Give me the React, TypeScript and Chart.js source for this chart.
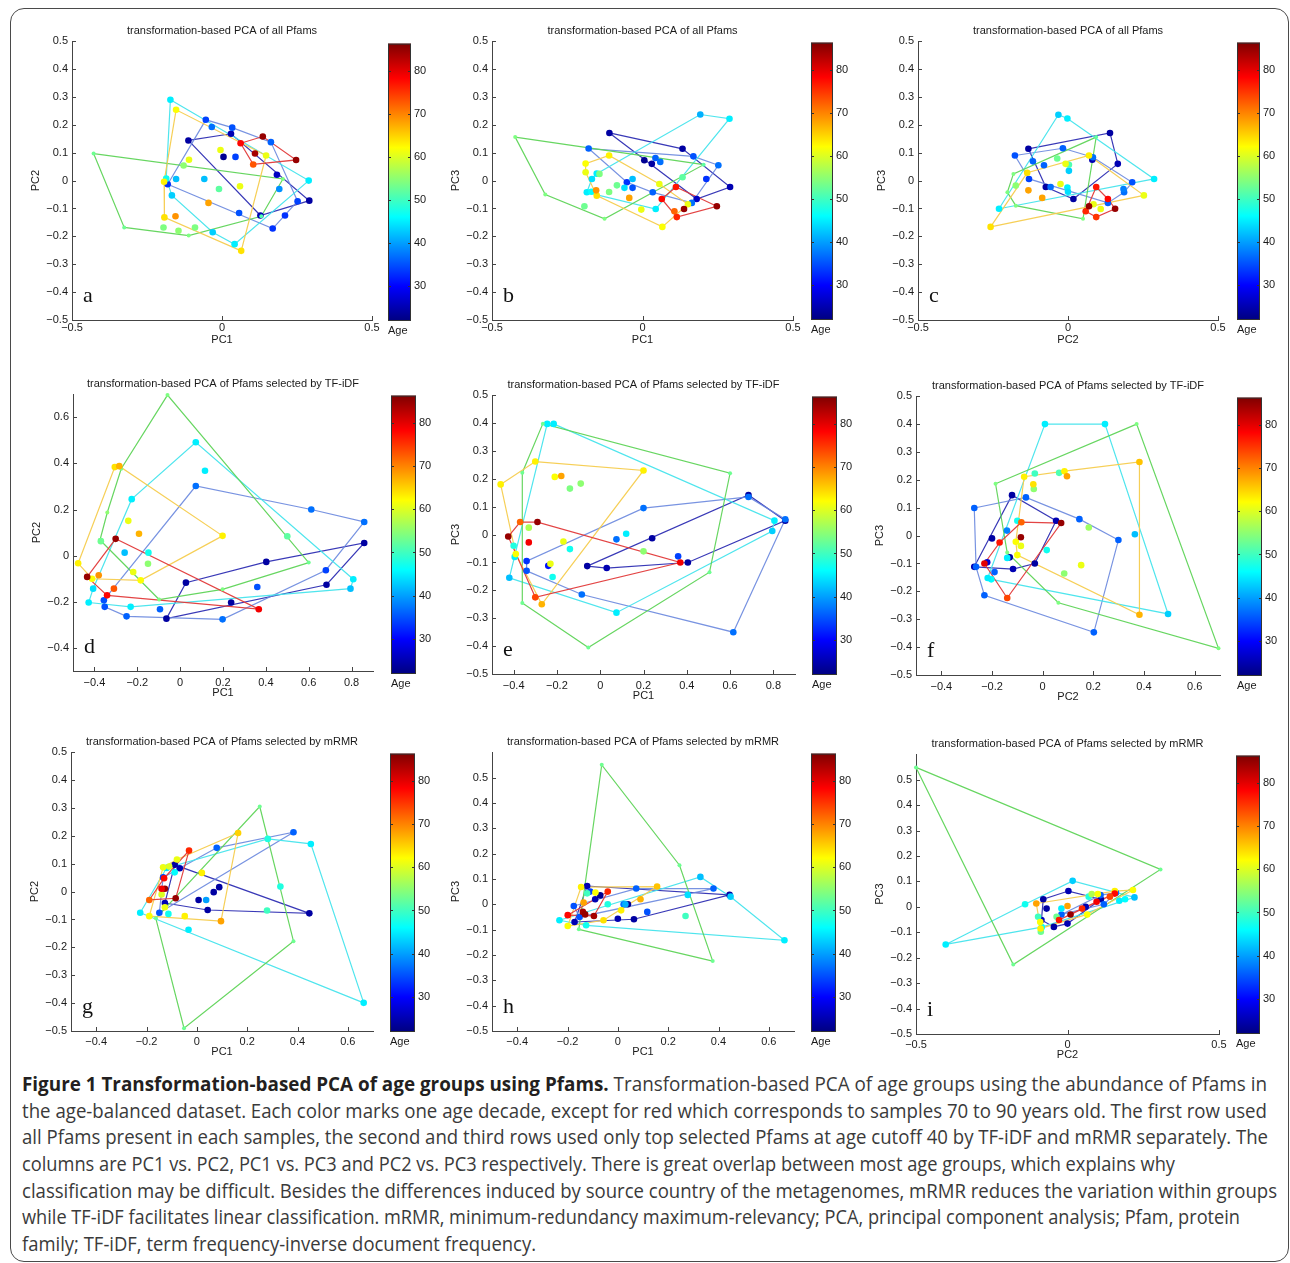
import React, { useEffect, useLayoutEffect, useRef } from "react";
import { Chart, registerables } from "chart.js";
Chart.register(...registerables);

// ---------------- data ----------------
type P = [number, number, number, number]; // x, y, age, hull-vertex flag

const AGE_MIN = 21.8;
const AGE_MAX = 86.4;
const AGE_TICKS = [30, 40, 50, 60, 70, 80];

const TICKS_HALF = [-0.5, 0, 0.5];
const TICKS_TENTHS = [-0.5, -0.4, -0.3, -0.2, -0.1, 0, 0.1, 0.2, 0.3, 0.4, 0.5];
const TICKS_X_WIDE = [-0.4, -0.2, 0, 0.2, 0.4, 0.6, 0.8];
const TICKS_X_MID = [-0.4, -0.2, 0, 0.2, 0.4, 0.6];
const TICKS_Y_D = [-0.4, -0.2, 0, 0.2, 0.4, 0.6];

const TITLE_ALL = "transformation-based PCA of all Pfams";
const TITLE_TF = "transformation-based PCA of Pfams selected by TF-iDF";
const TITLE_MR = "transformation-based PCA of Pfams selected by mRMR";

const ptsA: P[] = [
  [-0.112, 0.144, 24, 1], [0.03, 0.168, 25, 1], [0.183, 0.021, 26, 1], [0.291, -0.072, 24, 1], [0.128, -0.125, 25, 1], [0.005, 0.085, 23, 0],
  [-0.054, 0.218, 34, 1], [0.034, 0.19, 35, 1], [0.163, 0.138, 36, 1], [0.252, -0.074, 34, 1], [0.169, -0.172, 33, 1], [-0.181, -0.013, 33, 1],
  [-0.034, 0.192, 37, 0], [0.057, -0.116, 35, 0], [0.191, -0.03, 39, 0], [0.045, 0.085, 34, 0], [0.21, -0.125, 33, 0],
  [-0.172, 0.29, 45, 1], [0.289, 0.0, 45, 1], [0.042, -0.228, 45, 1], [-0.031, -0.185, 43, 1], [-0.167, -0.053, 43, 1], [-0.186, 0.007, 47, 1],
  [-0.153, 0.006, 42, 0], [-0.059, 0.006, 42, 0],
  [-0.428, 0.097, 53, 1], [-0.326, -0.168, 53, 1], [-0.111, -0.197, 54, 1], [0.131, -0.128, 51, 1], [0.203, 0.006, 54, 1],
  [-0.128, 0.054, 55, 0], [-0.195, -0.168, 54, 0], [-0.145, -0.18, 55, 0], [-0.09, -0.168, 54, 0], [-0.01, -0.03, 52, 0],
  [-0.153, 0.254, 62, 1], [0.147, 0.09, 61, 1], [0.064, -0.252, 64, 1], [-0.192, -0.132, 64, 1], [-0.193, -0.004, 63, 1],
  [-0.11, 0.075, 61, 0], [-0.005, 0.11, 61, 0], [0.06, -0.02, 61, 0], [-0.045, -0.08, 68, 0], [-0.155, -0.128, 69, 0],
  [0.062, 0.134, 78, 1], [0.136, 0.158, 85, 1], [0.247, 0.074, 85, 1], [0.104, 0.058, 73, 1], [0.11, 0.097, 84, 0],
];

const ptsB: P[] = [
  [-0.11, 0.171, 24, 1], [0.133, 0.114, 24, 1], [0.291, -0.023, 25, 1], [0.18, -0.066, 26, 1], [0.006, 0.073, 23, 0], [0.031, 0.06, 24, 0],
  [-0.179, 0.115, 36, 1], [0.169, 0.087, 35, 1], [0.252, 0.055, 37, 1], [0.164, -0.08, 37, 1], [0.034, -0.042, 36, 1], [-0.052, -0.006, 33, 1],
  [0.043, 0.081, 36, 0], [0.059, 0.067, 37, 0], [0.212, 0.006, 33, 0], [-0.033, -0.026, 35, 0],
  [-0.152, 0.025, 45, 1], [0.192, 0.237, 41, 1], [0.289, 0.222, 45, 1], [0.044, -0.102, 45, 1], [-0.185, -0.042, 45, 1], [-0.168, 0.006, 44, 1],
  [-0.033, 0.006, 42, 0], [-0.06, -0.026, 44, 0], [-0.17, -0.04, 46, 0],
  [-0.423, 0.156, 54, 1], [-0.323, -0.05, 54, 1], [-0.126, -0.137, 54, 1], [0.203, 0.057, 52, 1],
  [-0.193, -0.092, 53, 0], [-0.111, -0.041, 54, 0], [-0.085, -0.017, 53, 0], [-0.143, 0.024, 54, 0], [0.133, 0.012, 52, 0],
  [-0.111, 0.09, 63, 1], [-0.189, 0.061, 62, 1], [-0.189, 0.03, 61, 1], [-0.152, -0.054, 64, 1], [0.066, -0.166, 62, 1], [0.151, -0.085, 61, 1],
  [0.056, -0.012, 61, 1], [-0.004, -0.104, 61, 0], [-0.044, -0.062, 68, 0], [-0.154, -0.035, 69, 0],
  [0.111, -0.023, 77, 1], [0.247, -0.092, 85, 1], [0.114, -0.131, 76, 1], [0.064, -0.066, 78, 1], [0.138, -0.102, 85, 0], [0.106, -0.11, 72, 0],
];

const ptsC: P[] = [
  [-0.132, 0.114, 24, 1], [0.14, 0.171, 24, 1], [0.166, 0.06, 25, 1], [0.018, -0.066, 24, 1], [-0.074, -0.023, 24, 1], [0.081, 0.075, 25, 0],
  [-0.177, 0.09, 35, 1], [-0.017, 0.116, 36, 1], [0.083, 0.084, 37, 1], [0.214, -0.006, 35, 1], [0.187, -0.042, 37, 1], [0.133, -0.08, 36, 1],
  [-0.13, 0.006, 34, 1], [-0.08, 0.055, 36, 0], [-0.117, 0.069, 36, 0], [-0.058, -0.023, 37, 0], [0.185, -0.03, 38, 0],
  [-0.032, 0.236, 43, 1], [-0.002, 0.223, 45, 1], [0.287, 0.006, 45, 1], [-0.23, -0.101, 45, 1],
  [0.003, 0.035, 43, 0], [-0.002, -0.025, 45, 0], [0.0, -0.04, 44, 0],
  [-0.182, 0.024, 54, 1], [-0.202, -0.042, 54, 1], [-0.174, -0.09, 54, 1], [0.05, -0.137, 54, 1], [0.094, 0.156, 52, 1],
  [-0.036, 0.079, 53, 0], [-0.174, -0.018, 55, 0], [0.003, 0.057, 51, 0],
  [-0.258, -0.166, 64, 1], [-0.136, 0.028, 64, 1], [0.07, 0.09, 63, 1], [0.253, -0.053, 61, 1],
  [-0.008, 0.06, 61, 0], [-0.025, -0.012, 61, 0], [-0.132, -0.035, 68, 0], [-0.086, -0.062, 68, 0], [0.109, -0.102, 61, 0], [0.085, -0.085, 61, 0],
  [0.094, -0.023, 77, 1], [0.133, -0.066, 78, 1], [0.157, -0.101, 85, 1], [0.094, -0.131, 75, 1], [0.059, -0.11, 76, 1], [0.07, -0.092, 85, 0],
];

const ptsD: P[] = [
  [0.027, -0.117, 24, 1], [0.402, -0.027, 24, 1], [0.859, 0.055, 24, 1], [0.683, -0.126, 24, 1], [-0.064, -0.273, 24, 1], [0.238, -0.203, 24, 0],
  [0.073, 0.302, 37, 1], [0.612, 0.2, 37, 1], [0.859, 0.146, 37, 1], [0.68, -0.063, 34, 1], [0.198, -0.276, 37, 1], [-0.25, -0.263, 36, 1],
  [-0.352, -0.222, 35, 1], [-0.356, -0.193, 35, 1], [-0.094, -0.232, 36, 0], [0.36, -0.136, 35, 0],
  [0.073, 0.492, 45, 1], [0.808, -0.102, 45, 1], [0.795, -0.143, 42, 1], [-0.231, -0.222, 45, 1], [-0.427, -0.203, 45, 1], [-0.406, -0.143, 44, 1],
  [-0.226, 0.245, 45, 1], [0.116, 0.368, 45, 0], [-0.259, 0.013, 42, 0], [-0.148, 0.013, 47, 0],
  [-0.059, 0.696, 54, 1], [0.6, -0.03, 53, 1], [0.198, -0.146, 54, 1], [-0.098, -0.19, 54, 1], [-0.374, 0.068, 54, 1], [-0.275, 0.377, 54, 1],
  [-0.34, 0.187, 55, 1], [0.5, 0.084, 52, 0], [-0.15, -0.035, 55, 0], [-0.37, 0.063, 53, 0],
  [-0.476, -0.033, 63, 1], [-0.305, 0.384, 64, 1], [-0.284, 0.388, 67, 1], [0.198, 0.086, 63, 1], [-0.184, -0.107, 62, 1], [-0.411, -0.1, 62, 1],
  [-0.242, 0.151, 61, 0], [-0.192, 0.095, 67, 0], [-0.219, -0.071, 61, 0], [-0.38, -0.085, 69, 0],
  [-0.301, 0.073, 85, 1], [0.367, -0.232, 79, 1], [-0.341, -0.172, 78, 1], [-0.434, -0.092, 85, 1], [-0.309, -0.143, 73, 0],
];

const ptsE: P[] = [
  [0.685, 0.142, 24, 1], [0.855, 0.05, 24, 1], [0.405, -0.1, 24, 1], [0.03, -0.12, 25, 1], [-0.06, -0.113, 24, 1], [0.24, -0.013, 24, 1],
  [0.2, 0.095, 37, 1], [0.685, 0.135, 37, 1], [0.855, 0.055, 37, 1], [0.615, -0.35, 37, 1], [-0.085, -0.215, 37, 1], [-0.34, -0.13, 35, 1],
  [-0.34, -0.095, 33, 1], [0.075, -0.017, 37, 0], [0.36, -0.078, 34, 0], [-0.24, -0.112, 31, 0],
  [-0.245, 0.397, 45, 1], [-0.215, 0.397, 45, 1], [0.805, 0.05, 45, 1], [0.795, 0.013, 43, 1], [0.075, -0.28, 45, 1], [-0.42, -0.155, 42, 1],
  [-0.395, -0.08, 45, 1], [0.12, 0.003, 45, 0], [-0.14, -0.052, 47, 0], [-0.22, -0.152, 47, 0], [-0.4, -0.04, 48, 0],
  [-0.265, 0.398, 53, 1], [0.6, 0.22, 53, 1], [0.505, -0.135, 53, 1], [-0.055, -0.405, 53, 1], [-0.36, -0.245, 53, 1], [-0.36, 0.222, 53, 1],
  [-0.14, 0.165, 54, 0], [-0.09, 0.183, 55, 0], [-0.33, 0.025, 57, 0], [0.2, -0.06, 55, 0],
  [-0.46, 0.18, 63, 1], [-0.3, 0.262, 63, 1], [0.2, 0.23, 63, 1], [-0.27, -0.25, 67, 1], [-0.39, -0.07, 62, 1],
  [-0.21, 0.207, 62, 0], [-0.18, 0.21, 68, 0], [-0.17, -0.025, 61, 0], [-0.23, -0.105, 61, 0],
  [-0.37, 0.045, 72, 1], [-0.29, 0.045, 85, 1], [0.37, -0.1, 79, 1], [-0.3, -0.225, 74, 1], [-0.425, -0.007, 85, 1], [-0.33, -0.028, 79, 0],
];

const ptsF: P[] = [
  [-0.121, 0.145, 24, 1], [0.053, 0.053, 25, 1], [-0.031, -0.1, 24, 1], [-0.117, -0.12, 25, 1], [-0.27, -0.112, 25, 1], [-0.2, -0.01, 24, 1],
  [-0.13, -0.078, 24, 0], [-0.219, -0.096, 27, 0],
  [-0.27, 0.099, 36, 1], [-0.066, 0.137, 36, 1], [0.145, 0.059, 36, 1], [0.299, -0.016, 36, 1], [0.202, -0.347, 36, 1], [-0.23, -0.214, 36, 1],
  [-0.263, -0.112, 36, 1], [-0.19, -0.131, 36, 0], [-0.141, 0.018, 38, 0],
  [0.009, 0.4, 45, 1], [0.246, 0.4, 45, 1], [0.495, -0.281, 43, 1], [-0.203, -0.157, 46, 1], [-0.217, -0.152, 45, 1],
  [-0.14, -0.08, 45, 0], [0.016, -0.052, 47, 0], [0.364, 0.005, 42, 0], [-0.1, 0.053, 47, 0],
  [-0.186, 0.186, 54, 1], [0.371, 0.4, 54, 1], [0.694, -0.404, 54, 1], [0.062, -0.241, 54, 1], [-0.14, -0.061, 54, 1],
  [-0.031, 0.223, 50, 0], [0.065, 0.225, 51, 0], [-0.035, 0.167, 55, 0], [0.182, 0.029, 56, 0], [0.085, -0.136, 55, 0],
  [-0.073, 0.211, 63, 1], [0.086, 0.231, 63, 1], [0.382, 0.264, 66, 1], [0.382, -0.284, 67, 1], [-0.1, -0.07, 62, 1], [-0.106, -0.022, 62, 1],
  [0.096, 0.213, 68, 0], [-0.037, 0.184, 64, 0], [-0.086, -0.037, 61, 0], [0.152, -0.106, 61, 0],
  [-0.23, -0.1, 80, 1], [-0.17, -0.025, 77, 1], [-0.084, 0.048, 72, 1], [0.073, 0.045, 85, 1], [-0.14, -0.224, 74, 1], [-0.086, -0.006, 85, 0],
];

const ptsG: P[] = [
  [-0.088, 0.096, 24, 1], [-0.068, 0.084, 25, 1], [0.447, -0.078, 24, 1], [0.043, -0.066, 24, 1], [-0.127, -0.041, 25, 1],
  [0.089, 0.016, 24, 0], [0.067, -0.002, 24, 0], [0.007, -0.03, 24, 0],
  [0.079, 0.157, 36, 1], [0.384, 0.213, 36, 1], [-0.149, -0.076, 35, 1], [-0.134, 0.051, 34, 1],
  [-0.225, -0.076, 45, 1], [-0.12, 0.085, 44, 1], [0.282, 0.189, 48, 1], [0.453, 0.171, 45, 1], [0.663, -0.399, 45, 1], [-0.033, -0.137, 45, 1],
  [0.332, 0.018, 48, 0], [-0.113, -0.08, 47, 0], [-0.088, 0.069, 46, 0], [0.037, -0.03, 40, 0],
  [0.25, 0.305, 53, 1], [0.384, -0.178, 53, 1], [-0.051, -0.49, 53, 1], [-0.163, -0.096, 53, 1], [0.279, -0.068, 50, 0],
  [-0.189, -0.088, 62, 1], [0.164, 0.21, 65, 1], [0.096, -0.106, 68, 1], [-0.134, 0.087, 61, 1], [-0.079, 0.115, 61, 1],
  [0.02, 0.067, 63, 0], [-0.048, -0.088, 63, 0], [-0.127, -0.056, 61, 0], [-0.14, -0.01, 60, 0], [-0.11, 0.09, 60, 0],
  [-0.189, -0.03, 72, 1], [-0.031, 0.147, 76, 1], [-0.084, -0.024, 85, 1], [-0.13, 0.048, 78, 1], [-0.127, 0.01, 85, 0], [-0.14, 0.01, 79, 0],
];

const ptsH: P[] = [
  [-0.122, 0.072, 25, 1], [0.444, 0.037, 24, 1], [0.064, -0.059, 24, 1], [0.0, -0.057, 25, 1], [-0.172, -0.07, 25, 1],
  [0.04, 0.0, 23, 0], [-0.09, 0.02, 25, 0], [-0.07, 0.035, 23, 0],
  [0.073, 0.062, 36, 1], [0.38, 0.062, 36, 1], [-0.175, -0.007, 35, 1], [-0.152, -0.05, 35, 1], [0.023, 0.0, 37, 0], [0.117, -0.03, 35, 0], [-0.11, 0.05, 34, 0],
  [-0.232, -0.063, 45, 1], [0.328, 0.108, 42, 1], [0.448, 0.03, 43, 1], [0.662, -0.142, 45, 1], [-0.126, -0.083, 47, 1],
  [-0.04, 0.0, 48, 0], [0.278, 0.037, 44, 0], [0.03, 0.0, 41, 0],
  [-0.064, 0.55, 53, 1], [0.245, 0.154, 53, 1], [0.377, -0.224, 53, 1], [-0.155, -0.099, 53, 1], [0.269, -0.046, 50, 0], [-0.122, 0.043, 50, 0],
  [-0.146, 0.068, 63, 1], [0.156, 0.07, 66, 1], [-0.057, -0.063, 64, 1], [-0.199, -0.086, 62, 1],
  [0.09, 0.02, 67, 0], [0.013, -0.024, 63, 0], [-0.089, 0.046, 62, 0], [-0.136, 0.007, 68, 0],
  [-0.04, 0.05, 76, 1], [-0.095, -0.046, 84, 1], [-0.199, -0.043, 78, 1], [-0.139, -0.03, 84, 0], [-0.13, -0.04, 85, 0],
];

const ptsI: P[] = [
  [-0.08, 0.03, 24, 1], [0.003, 0.062, 25, 1], [0.11, 0.03, 24, 1], [0.0, -0.066, 25, 1], [-0.045, -0.079, 24, 1], [-0.086, -0.052, 26, 1],
  [-0.069, -0.007, 24, 0], [0.06, 0.0, 25, 0],
  [-0.02, -0.03, 36, 1], [0.109, 0.046, 36, 1], [0.16, 0.055, 37, 1], [0.12, 0.01, 36, 1],
  [-0.402, -0.148, 45, 1], [-0.14, 0.01, 47, 1], [0.017, 0.102, 43, 1], [0.221, 0.037, 42, 1], [-0.085, -0.08, 46, 1],
  [0.171, 0.024, 45, 0], [0.19, 0.03, 46, 0], [-0.02, -0.007, 45, 0], [0.07, 0.04, 48, 0],
  [-0.5, 0.548, 53, 1], [0.307, 0.147, 53, 1], [-0.179, -0.227, 53, 1],
  [-0.088, -0.098, 53, 0], [-0.097, -0.039, 50, 0], [-0.036, -0.039, 53, 0], [0.08, 0.05, 57, 0],
  [-0.103, 0.013, 68, 1], [0.156, 0.062, 63, 1], [0.216, 0.066, 62, 1], [-0.089, -0.085, 63, 1], [0.065, -0.03, 62, 1],
  [-0.09, -0.06, 62, 0], [0.1, 0.05, 62, 0], [0.0, 0.003, 68, 0],
  [-0.028, -0.052, 77, 1], [0.156, 0.052, 78, 1], [0.048, -0.007, 76, 1], [0.096, 0.02, 79, 0], [0.01, -0.03, 85, 0], [0.14, 0.04, 74, 0],
];

const CAPTION_BOLD = "Figure 1 Transformation-based PCA of age groups using Pfams.";
const CAPTION_LINES = [
  " Transformation-based PCA of age groups using the abundance of Pfams in",
  "the age-balanced dataset. Each color marks one age decade, except for red which corresponds to samples 70 to 90 years old. The first row used",
  "all Pfams present in each samples, the second and third rows used only top selected Pfams at age cutoff 40 by TF-iDF and mRMR separately. The",
  "columns are PC1 vs. PC2, PC1 vs. PC3 and PC2 vs. PC3 respectively. There is great overlap between most age groups, which explains why",
  "classification may be difficult. Besides the differences induced by source country of the metagenomes, mRMR reduces the variation within groups",
  "while TF-iDF facilitates linear classification. mRMR, minimum-redundancy maximum-relevancy; PCA, principal component analysis; Pfam, protein",
  "family; TF-iDF, term frequency-inverse document frequency.",
];

// ---------------- layout / style ----------------
const FONT = "'Liberation Sans', Arial, Helvetica, sans-serif";
const HULL_COLORS = [
  "rgba(35,35,175,0.9)",
  "rgba(105,135,222,0.9)",
  "rgba(70,228,236,0.95)",
  "rgba(95,212,88,0.95)",
  "rgba(246,204,78,0.95)",
  "rgba(226,58,58,0.95)",
];
const WY = 43;
const RP = 14;
const TOP = 21;
const ROWS = [
  { tickPad: 1, hx: 27 },
  { tickPad: 5, hx: 29 },
  { tickPad: 4, hx: 28 },
];

type PanelCfg = {
  letter: string; title: string; pts: P[]; xl: string; yl: string;
  xr: [number, number]; yr: [number, number]; xt: number[]; yt: number[];
  rect: [number, number, number, number]; cb: [number, number, number, number]; row: number;
};

const PANELS: PanelCfg[] = [
  { letter: "a", title: TITLE_ALL, pts: ptsA, xl: "PC1", yl: "PC2", xr: [-0.5, 0.5], yr: [-0.5, 0.5], xt: TICKS_HALF, yt: TICKS_TENTHS, rect: [72, 41, 372, 320], cb: [388, 42, 411, 321], row: 0 },
  { letter: "b", title: TITLE_ALL, pts: ptsB, xl: "PC1", yl: "PC3", xr: [-0.5, 0.5], yr: [-0.5, 0.5], xt: TICKS_HALF, yt: TICKS_TENTHS, rect: [492, 41, 793, 320], cb: [811, 41, 833, 320], row: 0 },
  { letter: "c", title: TITLE_ALL, pts: ptsC, xl: "PC2", yl: "PC3", xr: [-0.5, 0.5], yr: [-0.5, 0.5], xt: TICKS_HALF, yt: TICKS_TENTHS, rect: [918, 41, 1218, 320], cb: [1237, 41, 1260, 320], row: 0 },
  { letter: "d", title: TITLE_TF, pts: ptsD, xl: "PC1", yl: "PC2", xr: [-0.5, 0.9], yr: [-0.5, 0.7], xt: TICKS_X_WIDE, yt: TICKS_Y_D, rect: [73, 394, 373, 671], cb: [391, 394, 416, 674], row: 1 },
  { letter: "e", title: TITLE_TF, pts: ptsE, xl: "PC1", yl: "PC3", xr: [-0.5, 0.9], yr: [-0.5, 0.5], xt: TICKS_X_WIDE, yt: TICKS_TENTHS, rect: [492, 395, 795, 674], cb: [812, 395, 837, 675], row: 1 },
  { letter: "f", title: TITLE_TF, pts: ptsF, xl: "PC2", yl: "PC3", xr: [-0.5, 0.7], yr: [-0.5, 0.5], xt: TICKS_X_MID, yt: TICKS_TENTHS, rect: [916, 396, 1220, 675], cb: [1237, 396, 1262, 676], row: 1 },
  { letter: "g", title: TITLE_MR, pts: ptsG, xl: "PC1", yl: "PC2", xr: [-0.5, 0.7], yr: [-0.5, 0.5], xt: TICKS_X_MID, yt: TICKS_TENTHS, rect: [71, 752, 373, 1031], cb: [390, 752, 415, 1032], row: 2 },
  { letter: "h", title: TITLE_MR, pts: ptsH, xl: "PC1", yl: "PC3", xr: [-0.5, 0.7], yr: [-0.5, 0.6], xt: TICKS_X_MID, yt: TICKS_TENTHS, rect: [492, 752, 794, 1031], cb: [811, 752, 836, 1032], row: 2 },
  { letter: "i", title: TITLE_MR, pts: ptsI, xl: "PC2", yl: "PC3", xr: [-0.5, 0.5], yr: [-0.5, 0.6], xt: TICKS_HALF, yt: TICKS_TENTHS, rect: [916, 754, 1219, 1034], cb: [1236, 754, 1260, 1034], row: 2 },
];

// ---------------- helpers ----------------
function clamp01(v: number) { return Math.max(0, Math.min(1, v)); }
function jet(age: number): string {
  const t = clamp01((age - AGE_MIN) / (AGE_MAX - AGE_MIN));
  const r = clamp01(1.5 - Math.abs(4 * t - 3));
  const g = clamp01(1.5 - Math.abs(4 * t - 2));
  const b = clamp01(1.5 - Math.abs(4 * t - 1));
  return `rgb(${Math.round(r * 255)},${Math.round(g * 255)},${Math.round(b * 255)})`;
}
function groupOf(age: number) {
  if (age < 30) return 0;
  if (age < 40) return 1;
  if (age < 50) return 2;
  if (age < 60) return 3;
  if (age < 70) return 4;
  return 5;
}
type XY = { x: number; y: number };
function convexHull(ps: XY[]): XY[] {
  const p = [...ps].sort((a, b) => a.x - b.x || a.y - b.y);
  if (p.length < 3) return p;
  const cross = (o: XY, a: XY, b: XY) => (a.x - o.x) * (b.y - o.y) - (a.y - o.y) * (b.x - o.x);
  const lower: XY[] = [];
  for (const q of p) {
    while (lower.length >= 2 && cross(lower[lower.length - 2], lower[lower.length - 1], q) <= 0) lower.pop();
    lower.push(q);
  }
  const upper: XY[] = [];
  for (let i = p.length - 1; i >= 0; i--) {
    const q = p[i];
    while (upper.length >= 2 && cross(upper[upper.length - 2], upper[upper.length - 1], q) <= 0) upper.pop();
    upper.push(q);
  }
  upper.pop();
  lower.pop();
  return lower.concat(upper);
}
const fmt = (v: number) => (Math.abs(v) < 1e-9 ? "0" : (v < 0 ? "\u2212" : "") + String(Math.round(Math.abs(v) * 10) / 10));

// ---------------- components ----------------
function Panel({ p }: { p: PanelCfg }) {
  const ref = useRef<HTMLCanvasElement>(null);
  const cbRef = useRef<HTMLCanvasElement>(null);
  const row = ROWS[p.row];
  const [l, t, r, b] = p.rect;
  const W = r - l + WY + RP;
  const H = b - t + TOP + row.hx;
  const [cl, ct, cr, cbt] = p.cb;
  const CW = cr - cl + 30;
  const CH = cbt - ct + 8 + 17;

  useEffect(() => {
    const groups = [0, 1, 2, 3, 4, 5].map((g) => p.pts.filter((q) => groupOf(q[2]) === g));
    const hullSets = groups.map((gp, g) => {
      const hv = convexHull(gp.filter((q) => q[3]).map((q) => ({ x: q[0], y: q[1] })));
      return {
        data: hv.length ? [...hv, hv[0]] : [],
        showLine: true,
        borderColor: HULL_COLORS[g],
        borderWidth: 1.2,
        pointRadius: 0,
        fill: false,
        order: 1 + (5 - g),
        clip: 8,
      };
    });
    const ordered = groups.flat();
    const pointSet = {
      data: ordered.map((q) => ({ x: q[0], y: q[1] })),
      showLine: false,
      pointBackgroundColor: ordered.map((q) => jet(q[2])),
      pointBorderWidth: 0,
      pointRadius: ordered.map((q) => (groupOf(q[2]) === 3 && q[3] ? 2 : 3.3)),
      order: 0,
      clip: 8,
    };
    const font = { family: FONT, size: 11 };
    const decor = {
      id: "decor",
      afterDraw(chart: any) {
        const { ctx, chartArea, scales } = chart;
        const xs = scales.x, ys = scales.y;
        ctx.save();
        ctx.strokeStyle = "#444";
        ctx.lineWidth = 1;
        xs.ticks.forEach((tk: any) => {
          const px = Math.round(xs.getPixelForValue(tk.value)) + 0.5;
          ctx.beginPath();
          ctx.moveTo(px, chartArea.bottom);
          ctx.lineTo(px, chartArea.bottom - 4);
          ctx.stroke();
        });
        ys.ticks.forEach((tk: any) => {
          const py = Math.round(ys.getPixelForValue(tk.value)) + 0.5;
          ctx.beginPath();
          ctx.moveTo(chartArea.left, py);
          ctx.lineTo(chartArea.left + 4, py);
          ctx.stroke();
        });
        ctx.fillStyle = "#111";
        ctx.font = "22px 'Liberation Serif', 'DejaVu Serif', serif";
        ctx.textAlign = "left";
        ctx.textBaseline = "alphabetic";
        ctx.fillText(p.letter, chartArea.left + 11, chartArea.bottom - 18);
        ctx.restore();
      },
    };
    const chart = new Chart(ref.current as HTMLCanvasElement, {
      type: "scatter",
      data: { datasets: [pointSet as any, ...(hullSets as any[])] },
      options: {
        animation: false,
        responsive: false,
        devicePixelRatio: 1,
        events: [],
        layout: { padding: { top: 0, right: RP, bottom: 0, left: 0 } },
        plugins: {
          legend: { display: false },
          tooltip: { enabled: false },
          title: {
            display: true,
            text: p.title,
            fullSize: false,
            color: "#1a1a1a",
            font: { family: FONT, size: 11, weight: "normal" as any },
            padding: { top: 4, bottom: 4 },
          },
        },
        scales: {
          x: {
            type: "linear",
            position: "bottom",
            min: p.xr[0],
            max: p.xr[1],
            grid: { display: false, drawTicks: false },
            border: { display: true, color: "#444", width: 1 },
            ticks: { font, color: "#1a1a1a", padding: row.tickPad, autoSkip: false, maxRotation: 0, callback: (v: any) => fmt(Number(v)) },
            afterBuildTicks: (s: any) => { s.ticks = p.xt.map((v) => ({ value: v })); },
            afterFit: (s: any) => { s.height = row.hx; },
            title: { display: true, text: p.xl, color: "#1a1a1a", font, padding: { top: 0, bottom: 0 } },
          },
          y: {
            type: "linear",
            position: "left",
            min: p.yr[0],
            max: p.yr[1],
            grid: { display: false, drawTicks: false },
            border: { display: true, color: "#444", width: 1 },
            ticks: { font, color: "#1a1a1a", padding: 4, autoSkip: false, callback: (v: any) => fmt(Number(v)) },
            afterBuildTicks: (s: any) => { s.ticks = p.yt.map((v) => ({ value: v })); },
            afterFit: (s: any) => { s.width = WY; },
            title: { display: true, text: p.yl, color: "#1a1a1a", font, padding: { top: 0, bottom: 0 } },
          },
        },
      },
      plugins: [decor],
    } as any);

    const cbPlugin = {
      id: "cbfill",
      afterDraw(c: any) {
        const { ctx, chartArea: a, scales } = c;
        const w = a.right - a.left, h = a.bottom - a.top;
        const grad = ctx.createLinearGradient(0, a.bottom, 0, a.top);
        for (let i = 0; i <= 64; i++) {
          const tt = i / 64;
          grad.addColorStop(tt, jet(AGE_MIN + tt * (AGE_MAX - AGE_MIN)));
        }
        ctx.save();
        ctx.fillStyle = grad;
        ctx.fillRect(a.left, a.top, w, h);
        ctx.strokeStyle = "#333";
        ctx.lineWidth = 1;
        ctx.strokeRect(a.left + 0.5, a.top + 0.5, w - 1, h - 1);
        scales.y.ticks.forEach((tk: any) => {
          const py = Math.round(scales.y.getPixelForValue(tk.value)) + 0.5;
          ctx.beginPath();
          ctx.moveTo(a.right - 3, py);
          ctx.lineTo(a.right, py);
          ctx.moveTo(a.left, py);
          ctx.lineTo(a.left + 3, py);
          ctx.stroke();
        });
        ctx.restore();
      },
    };
    const cbChart = new Chart(cbRef.current as HTMLCanvasElement, {
      type: "scatter",
      data: { datasets: [] },
      options: {
        animation: false,
        responsive: false,
        devicePixelRatio: 1,
        events: [],
        layout: { padding: { top: 8, right: 0, bottom: 0, left: 0 } },
        plugins: { legend: { display: false }, tooltip: { enabled: false } },
        scales: {
          x: {
            type: "linear",
            min: 0,
            max: 1,
            grid: { display: false, drawTicks: false },
            border: { display: false },
            ticks: { display: false },
            afterFit: (s: any) => { s.height = 17; },
            title: { display: true, text: "Age", align: "start", color: "#1a1a1a", font, padding: { top: 0, bottom: 0 } },
          },
          y: {
            type: "linear",
            position: "right",
            min: AGE_MIN,
            max: AGE_MAX,
            grid: { display: false, drawTicks: false },
            border: { display: false },
            ticks: { font, color: "#1a1a1a", padding: 3, autoSkip: false },
            afterBuildTicks: (s: any) => { s.ticks = AGE_TICKS.map((v) => ({ value: v })); },
            afterFit: (s: any) => { s.width = 30; },
          },
        },
      },
      plugins: [cbPlugin],
    } as any);

    return () => {
      chart.destroy();
      cbChart.destroy();
    };
  }, []);

  return (
    <>
      <canvas ref={ref} width={W} height={H} style={{ position: "absolute", left: l - WY, top: t - TOP, width: W, height: H }} />
      <canvas ref={cbRef} width={CW} height={CH} style={{ position: "absolute", left: cl, top: ct - 8, width: CW, height: CH }} />
    </>
  );
}

const CAP_LEFT = 22;
const CAP_TOP = 1071;
const CAP_STEP = 26.65;
const CAP_WIDTHS = [1245, 1245, 1246, 1153, 1255, 1218, 514];

function Caption() {
  const refs = useRef<(HTMLDivElement | null)[]>([]);
  useLayoutEffect(() => {
    const fit = () => {
      refs.current.forEach((el, i) => {
        if (!el) return;
        el.style.transform = "none";
        const w = el.getBoundingClientRect().width;
        if (w > 0) el.style.transform = `scaleX(${CAP_WIDTHS[i] / w})`;
      });
    };
    fit();
    const fonts = (document as any).fonts;
    if (fonts && fonts.ready) fonts.ready.then(fit);
  }, []);
  const base: React.CSSProperties = {
    position: "absolute",
    left: CAP_LEFT,
    whiteSpace: "nowrap",
    fontFamily: "'Open Sans', 'Noto Sans', sans-serif",
    fontSize: 19.5,
    lineHeight: "26.6px",
    color: "#3a3a3a",
    transformOrigin: "0 0",
    display: "inline-block",
  };
  return (
    <>
      {CAPTION_LINES.map((line, i) => (
        <div key={i} ref={(el) => { refs.current[i] = el; }} style={{ ...base, top: CAP_TOP + i * CAP_STEP }}>
          {i === 0 && <span style={{ fontWeight: 700, color: "#231f20" }}>{CAPTION_BOLD}</span>}
          {line}
        </div>
      ))}
    </>
  );
}

export default function App() {
  return (
    <div style={{ position: "absolute", left: 0, top: 0, width: 1290, height: 1263, background: "#fff", overflow: "hidden" }}>
      <div style={{ position: "absolute", left: 10, top: 8, width: 1277, height: 1252, border: "1.5px solid #4a4a4a", borderRadius: 14 }} />
      {PANELS.map((p) => (
        <Panel key={p.letter} p={p} />
      ))}
      <Caption />
    </div>
  );
}
